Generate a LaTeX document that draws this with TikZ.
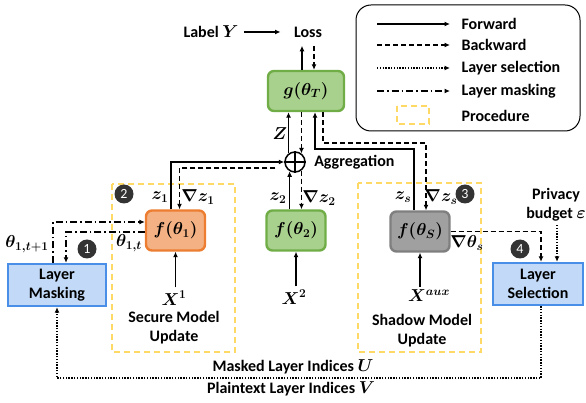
\documentclass[tikz,border=0pt]{standalone}
\usepackage{fontspec}
\setmainfont{Carlito}
\usepackage{amsmath,bm}
\usetikzlibrary{arrows.meta,calc}

\definecolor{gfill}{HTML}{A9D18E}
\definecolor{gdraw}{HTML}{70AD47}
\definecolor{ofill}{HTML}{F4B183}
\definecolor{odraw}{HTML}{ED7D31}
\definecolor{sfill}{HTML}{A0A0A0}
\definecolor{sdraw}{HTML}{7F7F7F}
\definecolor{bfill}{HTML}{C2DAF7}
\definecolor{bdraw}{HTML}{4A8FE7}
\definecolor{procy}{HTML}{FFD966}
\definecolor{badgec}{HTML}{333333}

% bold italic formula, set a little larger than the text
\newcommand\mth[1]{{\fontsize{18}{19}\selectfont$\bm{#1}$}}

\begin{document}
\begin{tikzpicture}[x=1pt,y=-1pt,
  font=\fontsize{16}{19}\selectfont\bfseries,
  >={Latex[length=5.5pt,width=5pt]},
  fwd/.style={line width=1.5pt,->},
  bwd/.style={line width=1.5pt,->,dash pattern=on 5pt off 3pt},
  sel/.style={line width=1.5pt,->,dash pattern=on 1.4pt off 1.4pt},
  msk/.style={line width=1.5pt,->,dash pattern=on 7pt off 3pt on 1.5pt off 3pt},
  proc/.style={draw=procy,line width=1.5pt,dash pattern=on 6pt off 4pt},
  model/.style={rounded corners=6pt,line width=2.4pt,minimum width=59pt,minimum height=40pt,inner sep=0pt},
  lbox/.style={draw=bdraw,fill=bfill,line width=2.4pt,align=center,inner sep=0pt},
  badge/.style={circle,fill=badgec,text=white,minimum size=19pt,inner sep=0pt,
    font=\fontsize{14}{14}\selectfont},
  lbl/.style={inner sep=1pt}]
\useasboundingbox (0,0) rectangle (586,403);

% procedure frames
\draw[proc] (112,184) rectangle (235,352);
\draw[proc] (358,183) rectangle (481,352);

% legend
\draw[line width=1pt,rounded corners=15pt] (356,5) rectangle (580,131);
\node[anchor=west] (lf) at (458,24) {Forward};
\node[anchor=west] (lb) at (458,45) {Backward};
\node[anchor=west] (ls1) at (458,68) {Layer selection};
\node[anchor=west] (lm1) at (458,91) {Layer masking};
\node[anchor=west] (lp) at (458,116) {Procedure};
\draw[fwd] ([xshift=-81pt]lf.west) -- ([xshift=-8pt]lf.west);
\draw[bwd] ([xshift=-81pt]lb.west) -- ([xshift=-8pt]lb.west);
\draw[sel] ([xshift=-81pt]ls1.west) -- ([xshift=-8pt]ls1.west);
\draw[msk] ([xshift=-81pt]lm1.west) -- ([xshift=-8pt]lm1.west);
\draw[proc] (397,106) rectangle (429,124);

% models
\node[model,draw=gdraw,fill=gfill,minimum width=76pt] (g) at (306,91) {\mth{g(\theta_T)}};
\node[model,draw=odraw,fill=ofill] (f1) at (175.5,230.5) {\mth{f(\theta_1)}};
\node[model,draw=gdraw,fill=gfill] (f2) at (296,230.5) {\mth{f(\theta_2)}};
\node[model,draw=sdraw,fill=sfill] (fs) at (420,231.5) {\mth{f(\theta_S)}};

% layer boxes
\node[lbox,minimum width=98pt,minimum height=42pt] (lm) at (57,285) {Layer\\Masking};
\node[lbox,minimum width=90pt,minimum height=42pt] (ls) at (538,284) {Layer\\Selection};

% aggregation
\node[circle,draw,line width=1.5pt,minimum size=20pt,inner sep=0pt] (agg) at (295,162) {};
\draw[line width=1.5pt] (agg.north) -- (agg.south) (agg.west) -- (agg.east);
\node[anchor=west] (aggt) at ([xshift=5pt]agg.east) {Aggregation};

% loss
\node (lab) at (211,32) {Label \mth{Y}};
\node (loss) at (308,32) {Loss};
\draw[fwd,shorten <=2pt,shorten >=10pt] (lab) -- (loss);
\draw[fwd] ([xshift=-4pt]g.north) -- ++(0,-24);
\draw[bwd] ([xshift=8pt]g.north) ++(0,-24) -- ([xshift=8pt]g.north);

% aggregation <-> top model
\draw[fwd] (agg.127) -- (agg.127 |- g.south);
\draw[bwd] (agg.53 |- g.south) -- (agg.53);
\node[lbl] at (280,134) {\mth{Z}};

% secure model branch
\draw[fwd] ([xshift=-4.5pt]f1.north) |- (agg.west);
\draw[bwd] ([shift={(-9pt,-6pt)}]agg.west) -| ([xshift=4pt]f1.north);

% second party branch
\draw[fwd] (agg.-120 |- f2.north) -- (agg.-120);
\draw[bwd] (agg.-53) -- (agg.-53 |- f2.north);

% shadow model branch
\draw[fwd] ([xshift=-6pt]fs.north) |- (315,149) -- ([xshift=9pt]g.south);
\draw[bwd] ([xshift=17pt]g.south) |- (426,143) -- ([xshift=6pt]fs.north);

% gradient labels
\node[lbl] at (160,197) {\mth{z_1}};
\node[lbl] at (198,197) {\mth{\nabla z_1}};
\node[lbl] at (278,198) {\mth{z_2}};
\node[lbl] at (319,198) {\mth{\nabla z_2}};
\node[lbl] at (403,197) {\mth{z_s}};
\node[lbl] at (441,197) {\mth{\nabla z_s}};
\node[lbl] at (467,243) {\mth{\nabla\theta_s}};

% inputs
\node (x1) at (174,298) {\mth{X^1}};
\node (x2) at (294,297) {\mth{X^2}};
\node (xa) at (429,296) {\mth{X^{aux}}};
\draw[fwd] (f1.south |- x1.north) -- (f1.south);
\draw[fwd] (f2.south |- x2.north) -- (f2.south);
\draw[fwd] (fs.south |- xa.north) -- (fs.south);
\node[align=center] (sm) at (174,328) {Secure Model\\Update};
\node[align=center] (shm) at (422,331) {Shadow Model\\Update};

% layer masking exchange
\draw[msk] ([xshift=-4pt]lm.north) |- ([yshift=8.5pt]f1.west);
\draw[msk] ([yshift=-1.5pt]f1.west) -| ([xshift=9pt]lm.north);
\node[lbl] at (27,244) {\mth{\theta_{1,t+1}}};
\node[lbl] at (129,243) {\mth{\theta_{1,t}}};

% layer selection
\draw[bwd] (fs.east) -| ([xshift=3pt]ls.north);
\node[align=center] (pb) at (556,205) {Privacy\\budget \mth{\varepsilon}};
\draw[sel] (557,0 |- pb.south) -- (557,0 |- ls.north);
\draw[sel] ([xshift=3pt]ls.south) -- ++(0,72) -| (lm.south);
\node (mu) at (293,367) {Masked Layer Indices \mth{U}};
\node (pv) at (291,389) {Plaintext Layer Indices \mth{V}};

% step badges
\node[badge] (b1) at (87,249) {1};
\node[badge] (b2) at (124,194) {2};
\node[badge] (b3) at (465,194) {3};
\node[badge] (b4) at (520,249) {4};
\end{tikzpicture}
\end{document}
